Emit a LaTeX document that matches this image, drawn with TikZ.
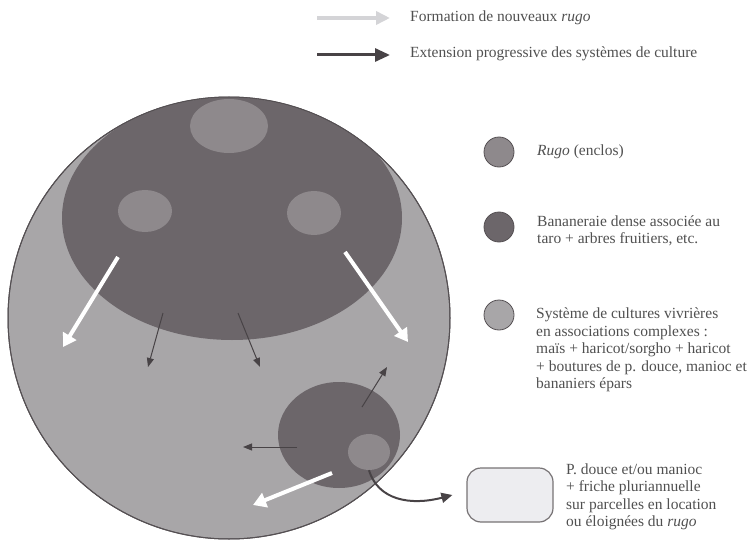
\documentclass[tikz,border=0pt]{standalone}
\usepackage{fontspec}
\setmainfont{Liberation Serif}
\usetikzlibrary{shapes.geometric,arrows.meta}
\definecolor{bigfill}{RGB}{168,166,168}
\definecolor{darkfill}{RGB}{108,102,106}
\definecolor{rugofill}{RGB}{142,137,140}
\definecolor{outline}{RGB}{85,80,83}
\definecolor{arrowdark}{RGB}{72,67,70}
\definecolor{boxfill}{RGB}{237,237,240}
\definecolor{lightarrow}{RGB}{212,212,215}
\definecolor{txt}{RGB}{80,80,80}
\tikzset{
  rugo/.style={ellipse, fill=rugofill, inner sep=0pt},
  whitearrow/.style={white, line width=4pt, -{Triangle[length=13pt,width=15pt]}},
  thinarrow/.style={arrowdark, line width=1pt, -{Triangle[length=9pt,width=7pt]}},
  legcircle/.style={circle, draw=outline, line width=0.8pt, minimum size=30pt, inner sep=0pt},
  legtext/.style={anchor=west, align=left, text=txt, inner sep=0pt, font=\fontsize{15.5}{17.5}\selectfont},
}
\begin{document}
\begin{tikzpicture}[x=1pt,y=-1pt]
\useasboundingbox (0,0) rectangle (750,543);
% legend arrows
\coordinate (la1) at (317,18); \coordinate (la2) at (390,18);
\coordinate (da1) at (317,55); \coordinate (da2) at (390,55);
\draw[lightarrow, line width=4pt, -{Triangle[length=14pt,width=13pt]}] (la1) -- (la2);
\draw[arrowdark, line width=3pt, -{Triangle[length=15pt,width=13pt]}] (da1) -- (da2);
\node[legtext] (tform) at (410,18) {Formation de nouveaux \textit{rugo}};
\node[legtext] (text) at (410,54) {Extension progressive des systèmes de culture};
% main field
\node[circle, draw=outline, fill=bigfill, line width=1pt, minimum size=442pt, inner sep=0pt] (field) at (229,318) {};
\begin{scope}
  \clip (229,318) circle (220.5pt);
  \node[ellipse, fill=darkfill, minimum width=340pt, minimum height=244pt, inner sep=0pt] (banana) at (232,218) {};
\end{scope}
\draw[outline, line width=1pt] (field.center) circle (221pt);
\node[rugo, minimum width=78pt, minimum height=54pt] (r1) at (229,126) {};
\node[rugo, minimum width=54pt, minimum height=42pt] (r2) at (145,211) {};
\node[rugo, minimum width=54pt, minimum height=44pt] (r3) at (314,213) {};
% arrows from the banana grove
\coordinate (w1s) at (118,257); \coordinate (w1e) at (63,347);
\coordinate (w2s) at (345,252); \coordinate (w2e) at (408,342);
\draw[whitearrow] (w1s) -- (w1e);
\draw[whitearrow] (w2s) -- (w2e);
\coordinate (t1s) at (163,313); \coordinate (t1e) at (148,367);
\coordinate (t2s) at (238,313); \coordinate (t2e) at (260,367);
\draw[thinarrow] (t1s) -- (t1e);
\draw[thinarrow] (t2s) -- (t2e);
% new rugo
\node[ellipse, fill=darkfill, minimum width=122pt, minimum height=106pt, inner sep=0pt] (newban) at (339,435) {};
\node[rugo, minimum width=42pt, minimum height=36pt] (newrugo) at (369,452) {};
\coordinate (u1e) at (387,367); \coordinate (u1s) at (362,407);
\coordinate (l1s) at (297,447); \coordinate (l1e) at (243,447);
\draw[thinarrow] (u1s) -- (u1e);
\draw[thinarrow] (l1s) -- (l1e);
\coordinate (w3s) at (332,473); \coordinate (w3e) at (253,505);
\draw[whitearrow] (w3s) -- (w3e);
% legend circles
\node[legcircle, fill=rugofill] (lc1) at (499,152) {};
\node[legtext] (lt1) at (537,152) {\textit{Rugo} (enclos)};
\node[legcircle, fill=darkfill] (lc2) at (499,227) {};
\node[legtext] (lt2) at (537,231) {Bananeraie dense associée au\\taro + arbres fruitiers, etc.};
\node[legcircle, fill=bigfill] (lc3) at (499,315) {};
\node[legtext] (lt3) at (536,350) {Système de cultures vivrières\\en associations complexes :\\maïs + haricot/sorgho + haricot\\+ boutures de p. douce, manioc et\\bananiers épars};
% box
\node[draw=outline!80, fill=boxfill, line width=1.2pt, rounded corners=14pt, minimum width=86pt, minimum height=54pt, inner sep=0pt] (box) at (510,495) {};
\node[legtext] (boxt) at (566,497) {P. douce et/ou manioc\\+ friche pluriannuelle\\sur parcelles en location\\ou éloignées du \textit{rugo}};
\draw[arrowdark, line width=2pt, -{Triangle[length=11pt,width=10pt]}] (newrugo.south) .. controls (378,500) and (410,506) .. ([xshift=-14pt]box.west);
\end{tikzpicture}
\end{document}
